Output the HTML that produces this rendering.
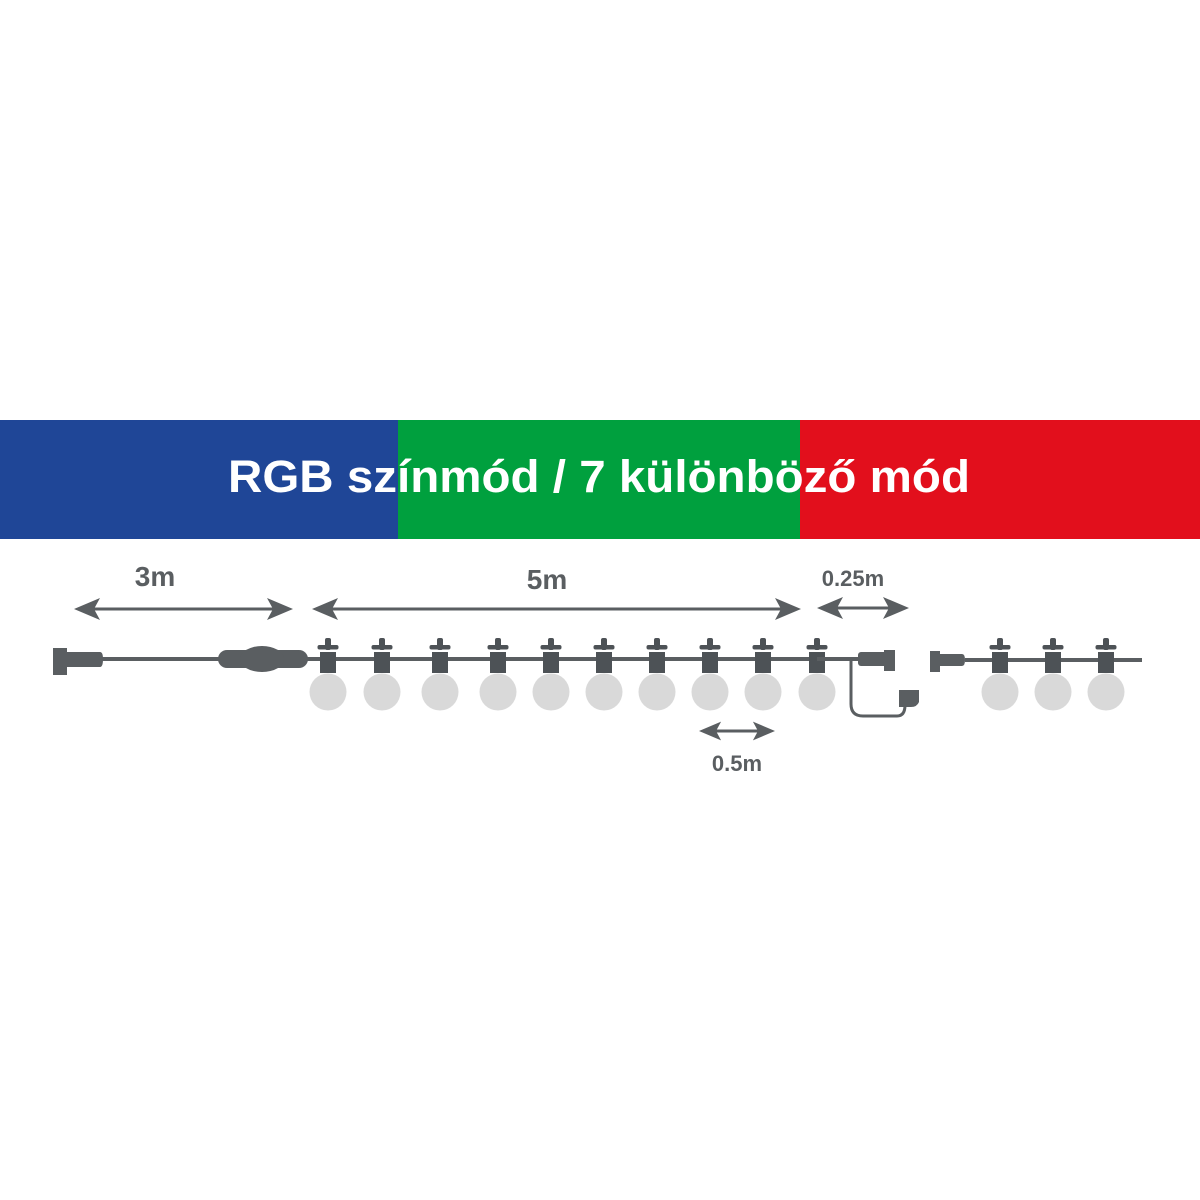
<!DOCTYPE html>
<html><head><meta charset="utf-8"><style>html,body{margin:0;padding:0;background:#fff}svg{display:block}</style></head><body>
<svg width="1200" height="1200" viewBox="0 0 1200 1200" xmlns="http://www.w3.org/2000/svg">
<defs>
<g id="bulb">
<circle cx="0" cy="32" r="18.5" fill="#d9d9d9"/>
<rect x="-8" y="-8" width="16" height="21" fill="#4d5256"/>
<rect x="-10.5" y="-15" width="21" height="4.5" rx="2" fill="#4d5256"/>
<rect x="-3" y="-22" width="6" height="12" rx="2" fill="#4d5256"/>
</g>
<g id="ah"><path d="M0 0 L26 -11 L20 0 L26 11 Z" fill="#5a5e61"/></g>
</defs>
<rect x="0" y="420" width="399" height="119" fill="#1f4697"/>
<rect x="398" y="420" width="403" height="119" fill="#00a03e"/>
<rect x="800" y="420" width="400" height="119" fill="#e20f1c"/>
<text x="228" y="492" font-family="Liberation Sans, DejaVu Sans, sans-serif" font-weight="bold" font-size="45" fill="#fff" textLength="742" lengthAdjust="spacingAndGlyphs">RGB színmód / 7 különböző mód</text>

<g font-family="Liberation Sans, DejaVu Sans, sans-serif" font-weight="bold" fill="#5a5e61" text-anchor="middle">
<text x="155" y="586" font-size="28">3m</text>
<text x="547" y="589" font-size="28">5m</text>
<text x="853" y="586" font-size="22">0.25m</text>
<text x="737" y="771" font-size="22">0.5m</text>
</g>

<g stroke="#5a5e61" stroke-width="3">
<line x1="80" y1="609" x2="288" y2="609"/>
<line x1="316" y1="609" x2="796" y2="609"/>
<line x1="821" y1="608" x2="905" y2="608"/>
<line x1="703" y1="731" x2="771" y2="731"/>
</g>
<use href="#ah" x="74" y="609"/>
<use href="#ah" transform="translate(293 609) scale(-1 1)"/>
<use href="#ah" x="312" y="609"/>
<use href="#ah" transform="translate(801 609) scale(-1 1)"/>
<use href="#ah" x="817" y="608"/>
<use href="#ah" transform="translate(909 608) scale(-1 1)"/>
<use href="#ah" transform="translate(699 731) scale(0.85)"/>
<use href="#ah" transform="translate(775 731) scale(-0.85 0.85)"/>

<!-- wires -->
<line x1="60" y1="659" x2="820" y2="659" stroke="#5a5e61" stroke-width="4"/>
<line x1="965" y1="660" x2="1142" y2="660" stroke="#5a5e61" stroke-width="4"/>
<!-- left plug -->
<rect x="53" y="648" width="14" height="27" fill="#5a5e61"/>
<path d="M60 652 L100 652 Q103 652 103 659 Q103 667 100 667 L60 667 Z" fill="#5a5e61"/>
<!-- connector -->
<rect x="218" y="650" width="90" height="18" rx="9" fill="#5a5e61"/>
<ellipse cx="262" cy="659" rx="22" ry="13" fill="#5a5e61"/>

<use href="#bulb" x="328" y="660"/>
<use href="#bulb" x="382" y="660"/>
<use href="#bulb" x="440" y="660"/>
<use href="#bulb" x="498" y="660"/>
<use href="#bulb" x="551" y="660"/>
<use href="#bulb" x="604" y="660"/>
<use href="#bulb" x="657" y="660"/>
<use href="#bulb" x="710" y="660"/>
<use href="#bulb" x="763" y="660"/>
<use href="#bulb" x="817" y="660"/>

<!-- end connector -->
<line x1="817" y1="659" x2="860" y2="659" stroke="#5a5e61" stroke-width="4"/>
<rect x="858" y="652" width="32" height="14" rx="3" fill="#5a5e61"/>
<rect x="884" y="650" width="11" height="21" fill="#5a5e61"/>
<path d="M851 660 L851 704 Q851 716 863 716 L897 716 Q905 716 905 705" fill="none" stroke="#5a5e61" stroke-width="3"/>
<path d="M899 690 L919 690 L919 702 Q917 707 911 707 L899 707 Z" fill="#5a5e61"/>
<!-- right plug -->
<rect x="930" y="651" width="10" height="21" fill="#5a5e61"/>
<path d="M935 654 L962 654 Q965 654 965 660 Q965 666 962 666 L935 666 Z" fill="#5a5e61"/>

<use href="#bulb" x="1000" y="660"/>
<use href="#bulb" x="1053" y="660"/>
<use href="#bulb" x="1106" y="660"/>
</svg>
</body></html>
